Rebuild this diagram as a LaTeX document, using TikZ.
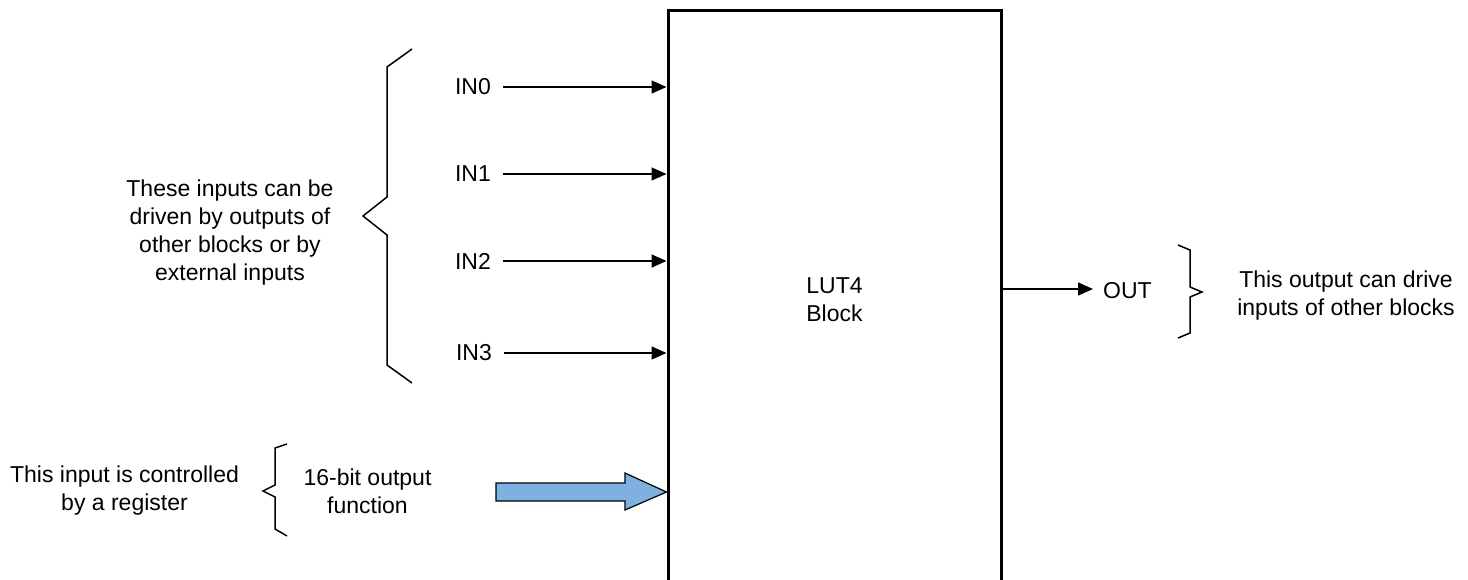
\documentclass[tikz,border=0pt]{standalone}
\usepackage{fontspec}
\setmainfont{Liberation Sans}
\usetikzlibrary{arrows.meta}
\definecolor{arrowblue}{HTML}{7EB1E0}
\begin{document}
\begin{tikzpicture}[x=1pt,y=-1pt,
  lbl/.style={font=\fontsize{23}{28}\selectfont, align=center, inner sep=0pt},
  inarr/.style={line width=1.5pt, -{Triangle[length=15pt,width=13pt]}},
  bracestyle/.style={line width=1.5pt, line join=miter}]
\useasboundingbox (0,0) rectangle (1468,579);
\clip (0,0) rectangle (1468,579);
\node[draw, line width=3pt, minimum width=333pt, minimum height=580pt, lbl] (lut) at (834.5,300) {LUT4\\Block};
% inputs
\node[lbl, anchor=east] (in0) at (491,87) {IN0};
\node[lbl, anchor=east] (in1) at (491,174) {IN1};
\node[lbl, anchor=east] (in2) at (491,261) {IN2};
\node[lbl, anchor=east] (in3) at (492,353) {IN3};
\foreach \n in {in0,in1,in2,in3}
  \draw[inarr] ([xshift=12pt]\n.east) -- (\n.east -| lut.west);
% left brace and note
\draw[bracestyle] (412,49) -- (387,67) -- (387,197) -- (363,216) -- (387,235) -- (387,365) -- (412,383);
\node[lbl] (note1) at (230,233) {These inputs can be\\driven by outputs of\\other blocks or by\\external inputs};
% bottom
\node[lbl] (note2) at (124.5,491) {This input is controlled\\by a register};
\draw[bracestyle] (287,444) -- (275,448) -- (275,485) -- (263,491) -- (275,497) -- (275,529) -- (287,536);
\node[lbl] (func) at (367.5,491) {16-bit output\\function};
\draw[fill=arrowblue, line width=1.2pt, line join=miter] (496,483) -- (625,483) -- (625,473) -- (lut.west |- 0,492) -- (625,510) -- (625,501) -- (496,501) -- cycle;
% output
\node[lbl, anchor=west] (out) at (1103,291) {OUT};
\draw[inarr] (lut.east |- 0,289) -- ([xshift=-10pt]out.west |- 0,289);
\draw[bracestyle] (1178,245) -- (1190,250) -- (1190,287) -- (1202,292) -- (1190,297) -- (1190,333) -- (1178,338);
\node[lbl] (note3) at (1346,296) {This output can drive\\inputs of other blocks};
\end{tikzpicture}
\end{document}
